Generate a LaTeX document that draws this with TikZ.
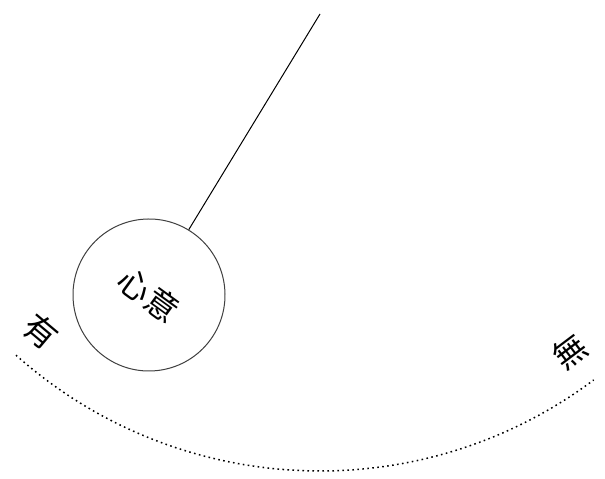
\documentclass[tikz,border=0pt]{standalone}
\usepackage{fontspec}
\newfontfamily\cjk{Noto Sans CJK TC}
\begin{document}
\begin{tikzpicture}[x=1pt,y=1pt,
  cjktext/.style={font=\cjk\fontsize{33}{33}\selectfont, inner sep=0pt},
  rod/.style={line width=1pt},
  bobstyle/.style={circle, draw=black!75, line width=1pt, minimum size=152pt, inner sep=0pt},
  swing/.style={line width=1.5pt, dash pattern=on 1.6pt off 3.4pt}]
\fill[white] (0,0) rectangle (605,479);
\useasboundingbox (0,0) rectangle (605,479);
\coordinate (pivot) at (320,465);
\node[bobstyle, cjktext, rotate=-36] (bob) at (149,184) {心意};
\draw[rod] (pivot) -- (bob);
\draw[swing] (pivot) ++(228.3:457) coordinate (leftend) arc[start angle=228.3, end angle=306.8, radius=457] coordinate (rightend);
\node[cjktext, rotate=-40] (you) at (41,147) {有};
\node[cjktext, rotate=37] (wu) at (570,128) {無};
\end{tikzpicture}
\end{document}
